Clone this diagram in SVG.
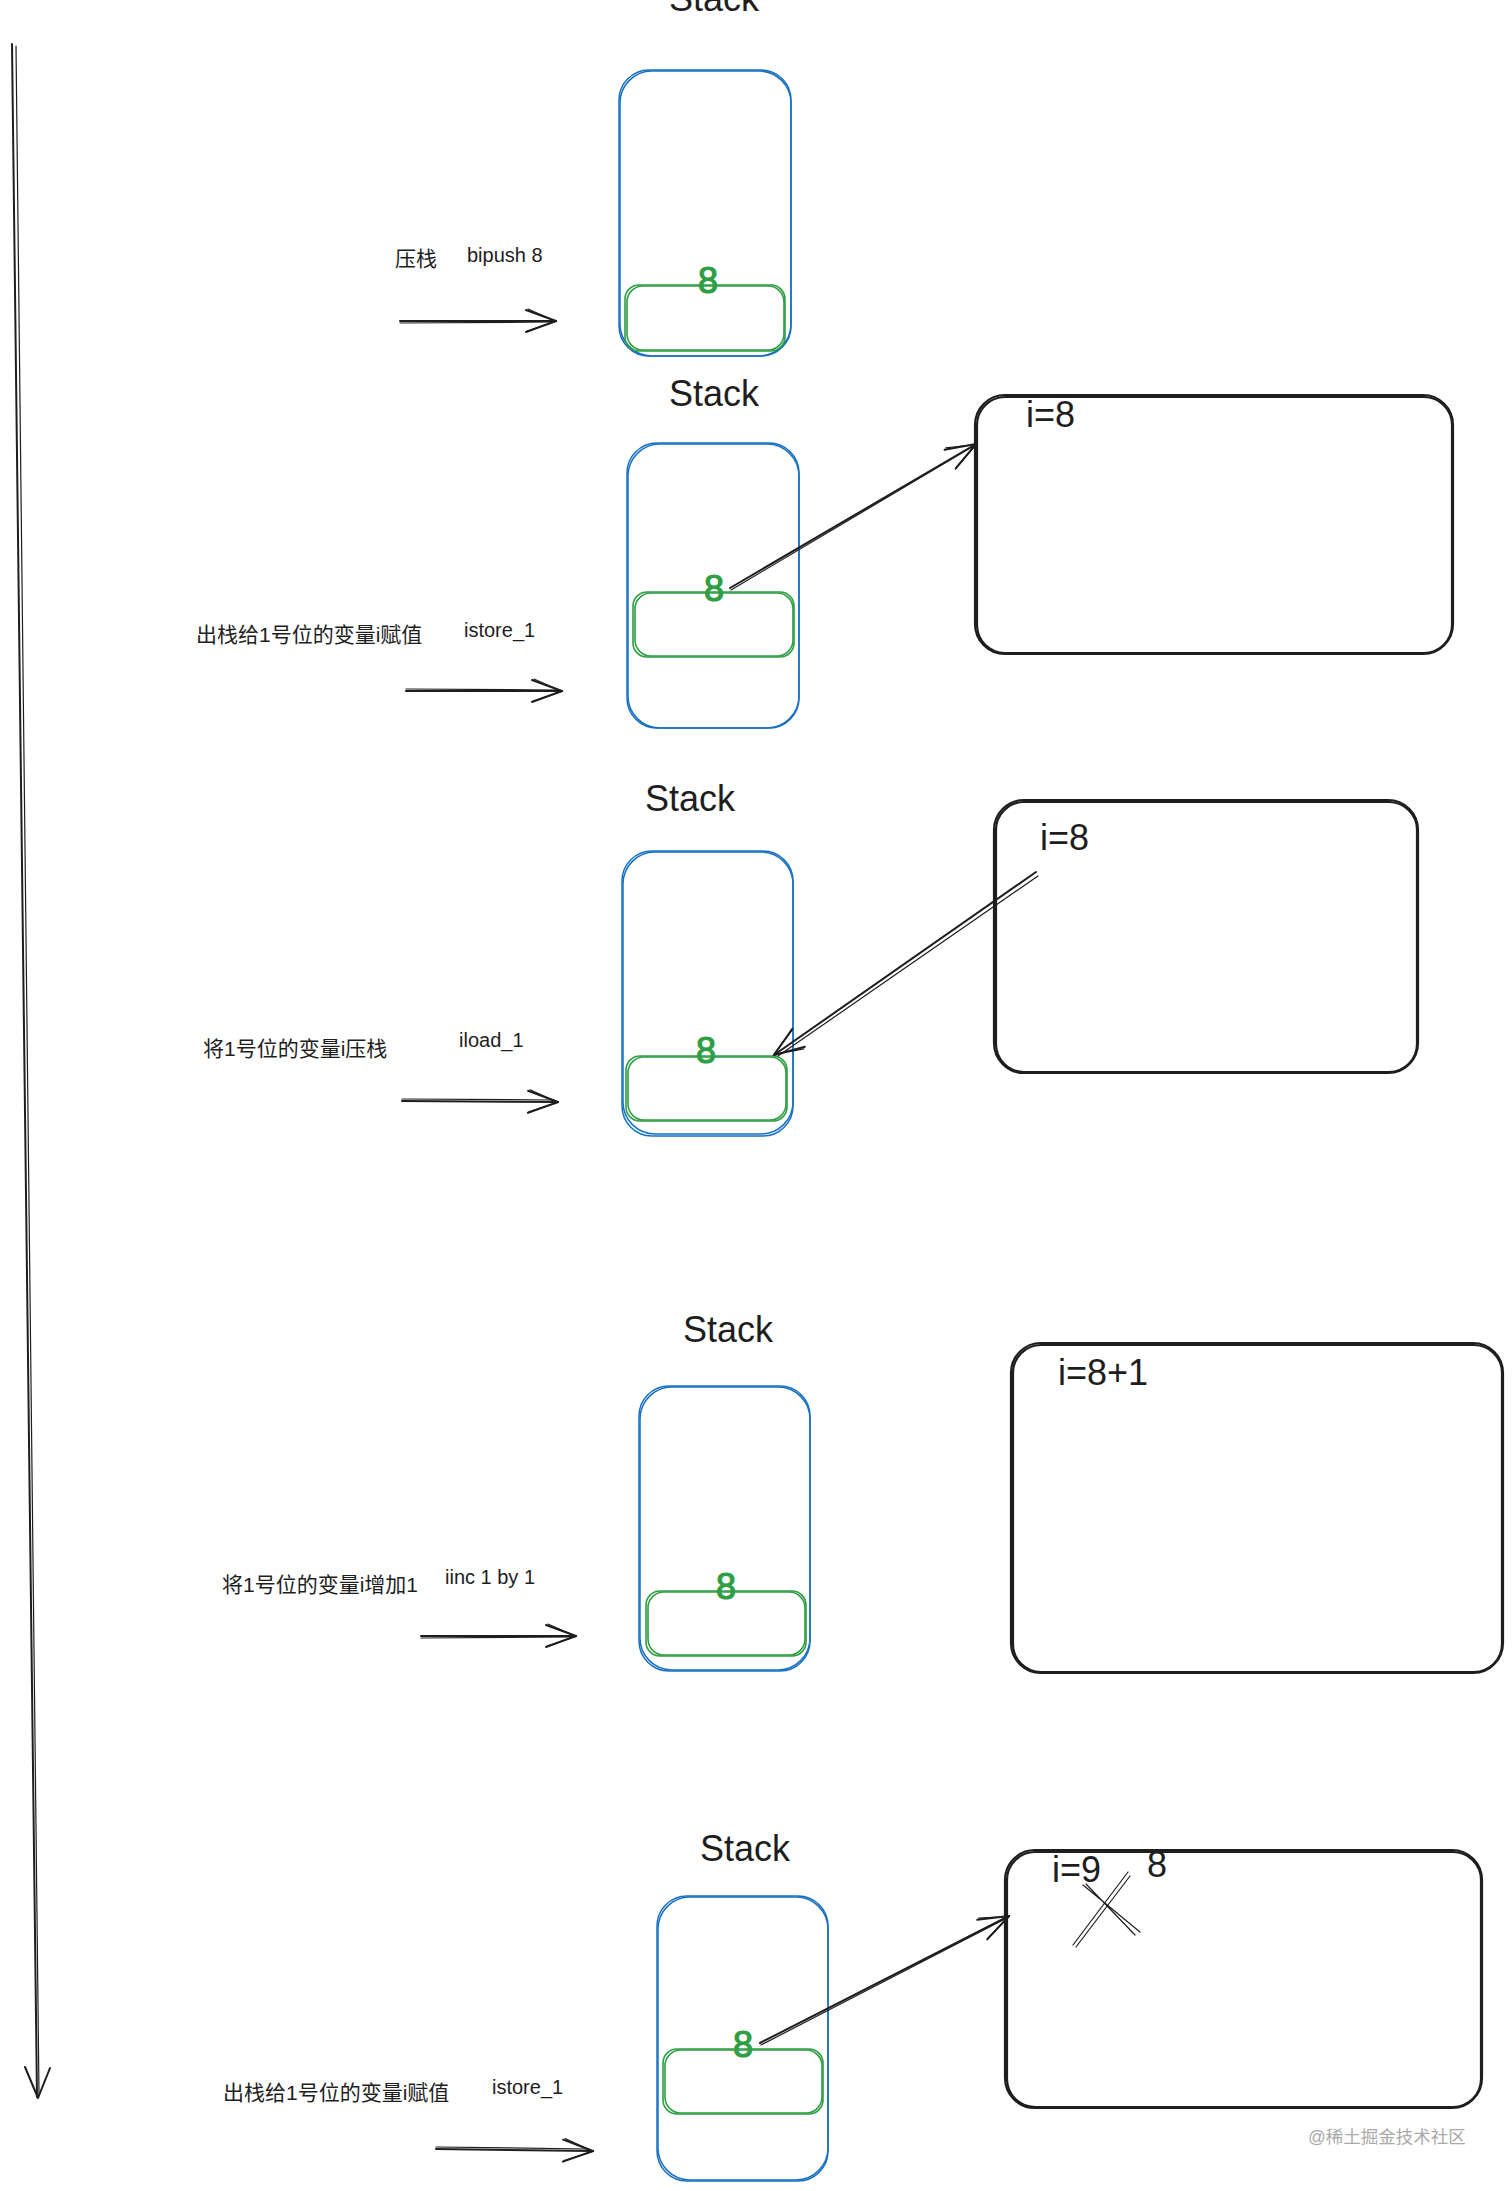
<svg xmlns="http://www.w3.org/2000/svg" width="1512" height="2191" viewBox="0 0 1512 2191">
<style>
  .bg { fill: #ffffff; }
  .blue { fill: none; stroke: #1971c2; stroke-width: 1.5; }
  .green { fill: none; stroke: #2f9e44; stroke-width: 1.6; }
  .box { fill: none; stroke: #1e1e1e; stroke-width: 2.2; }
  .ln { fill: none; stroke: #1e1e1e; stroke-width: 2; stroke-linecap: round; stroke-linejoin: round; }
  .ln2 { fill: none; stroke: #1e1e1e; stroke-width: 1.2; stroke-linecap: round; }
  .title { font-family: "Liberation Sans", Arial, sans-serif; font-size: 36px; fill: #1e1e1e; text-anchor: middle; }
  .val { font-family: "Liberation Sans", Arial, sans-serif; font-size: 36px; fill: #1e1e1e; }
  .eight { font-family: "Liberation Sans", Arial, sans-serif; font-size: 36px; fill: #2f9e44; stroke: #2f9e44; stroke-width: 1.2; text-anchor: middle; }
  .lbl { font-family: "Liberation Sans", "Noto Sans CJK SC", sans-serif; font-size: 21px; fill: #1e1e1e; }
  .op { font-family: "Liberation Sans", "Noto Sans CJK SC", sans-serif; font-size: 20px; fill: #1e1e1e; }
  .wm { font-family: "Liberation Sans", "Noto Sans CJK SC", sans-serif; font-size: 17.5px; fill: #aaaaaa; }
</style>
<defs>
  <marker id="ah" markerUnits="userSpaceOnUse" viewBox="-34 -16 38 32" refX="0" refY="0" markerWidth="38" markerHeight="32" orient="auto" overflow="visible">
    <path d="M-30,-11 L0,0 L-30,11" fill="none" stroke="#1e1e1e" stroke-width="2" stroke-linecap="round" stroke-linejoin="round"/>
    <path d="M-28,-12 L0,0.5 L-29,10" fill="none" stroke="#1e1e1e" stroke-width="1.2" stroke-linecap="round"/>
  </marker>
</defs>
<rect class="bg" x="0" y="0" width="1512" height="2191"/>

<!-- Stack 1 -->
<g id="stack1">
  <text class="title" x="714" y="11">Stack</text>
  <rect class="blue" x="619" y="70" width="172" height="286" rx="30"/>
  <rect class="blue" x="620" y="71" width="171" height="285" rx="32"/>
  <rect class="green" x="625" y="285" width="160" height="66" rx="14"/>
  <rect class="green" x="627" y="286" width="157" height="64" rx="16"/>
  <text class="eight" x="708" y="293">8</text>
</g>
<g id="label1">
  <text class="lbl" x="395" y="266">压栈</text>
  <text class="op" x="467" y="262">bipush 8</text>
</g>

<!-- Stack 2 -->
<g id="stack2">
  <text class="title" x="714" y="406">Stack</text>
  <rect class="blue" x="627" y="443" width="172" height="285" rx="30"/>
  <rect class="blue" x="628" y="444" width="171" height="284" rx="32"/>
  <rect class="green" x="633" y="592" width="161" height="65" rx="14"/>
  <rect class="green" x="635" y="593" width="158" height="63" rx="16"/>
  <text class="eight" x="714" y="601">8</text>
</g>
<g id="label2">
  <text class="lbl" x="196" y="642">出栈给1号位的变量i赋值</text>
  <text class="op" x="464" y="637">istore_1</text>
</g>
<g id="locals2">
  <rect class="box" x="975" y="395" width="478" height="259" rx="30"/>
  <rect class="box" x="977" y="397" width="475" height="256" rx="28" stroke-width="1.2"/>
  <text class="val" x="1026" y="427">i=8</text>
</g>

<!-- Stack 3 -->
<g id="stack3">
  <text class="title" x="690" y="811">Stack</text>
  <rect class="blue" x="622" y="851" width="171" height="285" rx="30"/>
  <rect class="blue" x="623" y="852" width="170" height="282" rx="32"/>
  <rect class="green" x="626" y="1056" width="161" height="65" rx="14"/>
  <rect class="green" x="628" y="1057" width="158" height="63" rx="16"/>
  <text class="eight" x="706" y="1063">8</text>
</g>
<g id="label3">
  <text class="lbl" x="203" y="1056">将1号位的变量i压栈</text>
  <text class="op" x="459" y="1047">iload_1</text>
</g>
<g id="locals3">
  <rect class="box" x="994" y="800" width="424" height="273" rx="30"/>
  <rect class="box" x="996" y="802" width="421" height="270" rx="28" stroke-width="1.2"/>
  <text class="val" x="1040" y="850">i=8</text>
</g>

<!-- Stack 4 -->
<g id="stack4">
  <text class="title" x="728" y="1342">Stack</text>
  <rect class="blue" x="639" y="1386" width="171" height="285" rx="30"/>
  <rect class="blue" x="640" y="1387" width="170" height="283" rx="32"/>
  <rect class="green" x="646" y="1591" width="160" height="65" rx="14"/>
  <rect class="green" x="648" y="1592" width="157" height="63" rx="16"/>
  <text class="eight" x="726" y="1599">8</text>
</g>
<g id="label4">
  <text class="lbl" x="222" y="1592">将1号位的变量i增加1</text>
  <text class="op" x="445" y="1584">iinc 1 by 1</text>
</g>
<g id="locals4">
  <rect class="box" x="1011" y="1343" width="492" height="330" rx="30"/>
  <rect class="box" x="1013" y="1345" width="489" height="327" rx="28" stroke-width="1.2"/>
  <text class="val" x="1058" y="1385">i=8+1</text>
</g>

<!-- Stack 5 -->
<g id="stack5">
  <text class="title" x="745" y="1861">Stack</text>
  <rect class="blue" x="657" y="1896" width="171" height="285" rx="30"/>
  <rect class="blue" x="658" y="1897" width="170" height="283" rx="32"/>
  <rect class="green" x="663" y="2049" width="160" height="65" rx="14"/>
  <rect class="green" x="665" y="2050" width="157" height="63" rx="16"/>
  <text class="eight" x="743" y="2057">8</text>
</g>
<g id="label5">
  <text class="lbl" x="223" y="2100">出栈给1号位的变量i赋值</text>
  <text class="op" x="492" y="2094">istore_1</text>
</g>
<g id="locals5">
  <rect class="box" x="1005" y="1850" width="477" height="258" rx="30"/>
  <rect class="box" x="1007" y="1852" width="474" height="255" rx="28" stroke-width="1.2"/>
  <text class="val" x="1052" y="1882">i=9</text>
  <text class="val" x="1147" y="1877">8</text>
  <path class="ln2" d="M1073,1945 L1128,1872 M1076,1947 L1130,1876"/>
  <path class="ln2" d="M1083,1885 L1140,1932 M1086,1884 L1135,1935"/>
</g>

<g id="watermark">
  <text class="wm" x="1308" y="2143">@稀土掘金技术社区</text>
</g>

<!-- Connectors -->
<g id="connectors">
  <!-- timeline -->
  <path class="ln" d="M12,44 L37,2097"/>
  <path class="ln2" d="M16,46 L39,2095"/>
  <path class="ln" d="M25,2067 L38,2098 L50,2068"/>
  <!-- step arrows -->
  <path class="ln" d="M400,321 L556,321" marker-end="url(#ah)"/>
  <path class="ln2" d="M400,323 L552,322"/>
  <path class="ln" d="M406,691 L562,691" marker-end="url(#ah)"/>
  <path class="ln2" d="M406,689 L558,690"/>
  <path class="ln" d="M402,1101 L558,1102" marker-end="url(#ah)"/>
  <path class="ln2" d="M402,1099 L554,1100"/>
  <path class="ln" d="M421,1636 L576,1636" marker-end="url(#ah)"/>
  <path class="ln2" d="M421,1638 L572,1637"/>
  <path class="ln" d="M436,2149 L593,2151" marker-end="url(#ah)"/>
  <path class="ln2" d="M436,2147 L589,2149"/>
  <!-- value arrows -->
  <path class="ln" d="M730,588 L976,444" marker-end="url(#ah)"/>
  <path class="ln2" d="M731,590 L972,447"/>
  <path class="ln" d="M1036,872 L774,1055" marker-end="url(#ah)"/>
  <path class="ln2" d="M1038,876 L778,1056"/>
  <path class="ln" d="M760,2043 L1009,1916" marker-end="url(#ah)"/>
  <path class="ln2" d="M761,2045 L1005,1919"/>
</g>
</svg>
